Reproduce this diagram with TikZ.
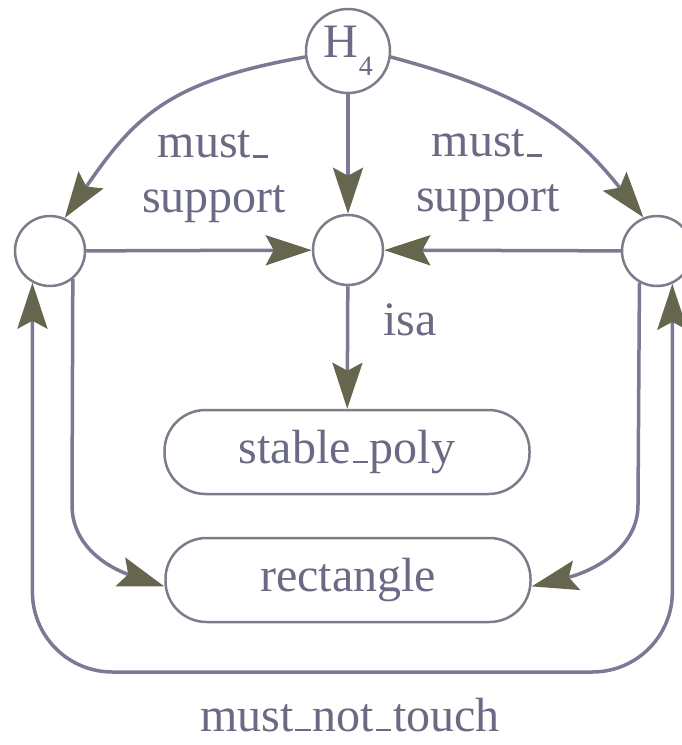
\documentclass[tikz,border=0pt]{standalone}
\usepackage{fontspec}
\setmainfont{Liberation Serif}
\usetikzlibrary{arrows.meta}
\definecolor{edgec}{HTML}{7A7A94}
\definecolor{tipc}{HTML}{66664F}
\definecolor{txtc}{HTML}{6A6A84}
\definecolor{bordc}{HTML}{7C7C8A}
\newcommand{\us}{\kern0.04em\rule{0.32em}{0.055em}\kern0.04em}
\tikzset{
  mytip/.tip={Stealth[length=46pt,width=30pt,inset=8pt,color=tipc]},
}
\begin{document}
\begin{tikzpicture}[x=1pt,y=-1pt,
  every node/.style={font=\fontsize{48}{55}\selectfont, text=txtc},
  circ/.style={circle, draw=bordc, line width=2.5pt, minimum size=70pt, inner sep=0pt, fill=white},
  hcirc/.style={circ, minimum size=84pt},
  pill/.style={rectangle, rounded corners=41pt, draw=bordc, line width=2.5pt, minimum width=365pt, minimum height=84pt, inner sep=0pt, fill=white},
  arr/.style={draw=edgec, line width=3.5pt, -mytip},
  arrboth/.style={draw=edgec, line width=3.5pt, mytip-mytip}]
\useasboundingbox (0,0) rectangle (681,745);
\node[hcirc] (h4) at (348,51) {H\kern1pt\raisebox{-18pt}{\fontsize{28}{28}\selectfont 4}};
\node[circ] (l) at (50,251) {};
\node[circ] (m) at (348,250) {};
\node[circ] (r) at (657,251) {};
\node[pill] (sp) at (347,452) {stable\us poly};
\node[pill] (re) at (348,580) {rectangle};
\node[align=center] (lab1) at (214,177) {must\us\\support};
\node[align=center] (lab2) at (488,176) {must\us\\support};
\node (isa) at (410,320) {isa};
\node (mnt) at (350,715) {must\us not\us touch};
\coordinate (bot) at (0,672);
\draw[arr] (h4) -- (m);
\draw[arr] (l) -- (m);
\draw[arr] (r) -- (m);
\draw[arr] (m) -- (sp);
\draw[arr] (h4.188) .. controls (169,81) and (135,116) .. (l.66);
\draw[arr] (h4.-8) .. controls (525,93) and (573,129) .. (r.112);
\draw[arr] (l.-51) -- (72,505) .. controls (72,550) and (115,570) .. (re.182.5);
\draw[arr] (r.241) -- (638,505) .. controls (638,550) and (590,572) .. (re.-2);
\draw[arrboth, rounded corners=80pt] (l.241) -- (l.241 |- bot) -- (r.-65 |- bot) -- (r.-65);
\end{tikzpicture}
\end{document}
